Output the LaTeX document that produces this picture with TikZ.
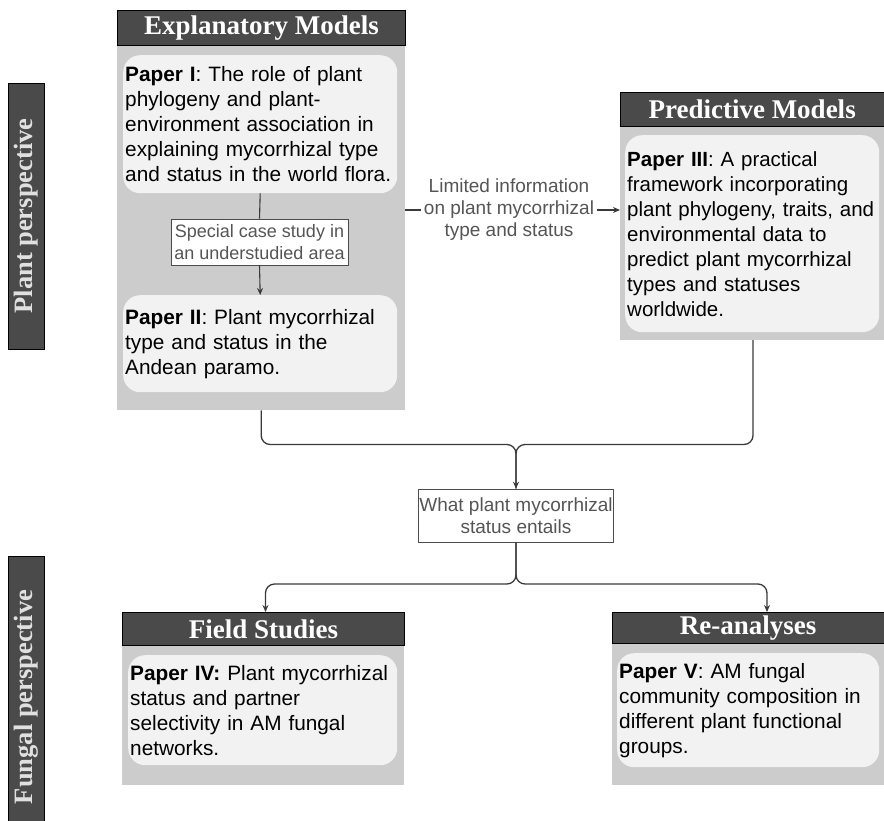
\documentclass[tikz,border=0pt]{standalone}
\usepackage{fontspec}
\setmainfont{Liberation Sans}
\newfontfamily\headfont{Liberation Serif}
\usetikzlibrary{arrows.meta}
\definecolor{hdr}{HTML}{4A4A4A}
\definecolor{panel}{HTML}{CCCCCC}
\definecolor{cardfill}{HTML}{F2F2F2}
\definecolor{lbl}{HTML}{555555}
\definecolor{conn}{HTML}{3A3A3A}
\begin{document}
\begin{tikzpicture}[x=1pt,y=-1pt,
  header/.style={draw=black, line width=0.8pt, fill=hdr, text=white, anchor=north west,
    inner sep=0pt, font=\headfont\bfseries\fontsize{27}{30}\selectfont},
  panelbox/.style={fill=panel, anchor=north west, inner sep=0pt},
  card/.style={fill=cardfill, rounded corners=17pt, anchor=north west, inner xsep=2pt,
    inner ysep=0pt, align=left, font=\fontsize{20.8}{25}\selectfont},
  sidebar/.style={draw=black, line width=0.6pt, fill=hdr, rotate=90, minimum height=36pt,
    inner sep=0pt, text=white!88!black, font=\headfont\bfseries\fontsize{26.5}{30}\selectfont},
  flowlabel/.style={fill=white, text=lbl, align=center, inner xsep=3pt, inner ysep=1pt,
    font=\fontsize{19}{22}\selectfont},
  boxlabel/.style={draw=black!70, fill=white, text=lbl, align=center, inner sep=1pt,
    line width=0.6pt},
  link/.style={draw=conn, line width=1.1pt},
  arrowlink/.style={link, -{Stealth[length=7pt,width=6pt]}},
  merge/.style={draw=conn, line width=1.3pt, rounded corners=9pt},
]
\useasboundingbox (0,0) rectangle (884,820);

% side bars
\node[sidebar, minimum width=266pt] (plantbar) at (26,216) {Plant perspective};
\node[sidebar, minimum width=282pt] (fungalbar) at (26,697) {Fungal perspective};

% Explanatory models
\node[panelbox, minimum width=288pt, minimum height=365pt] (explG) at (117,45) {};
\node[header, minimum width=288pt, minimum height=35pt] (explH) at (117,10) {Explanatory Models};
\node[card, text width=270pt, minimum height=138pt] (p1) at (123,55)
  {\textbf{Paper I}: The role of plant\\phylogeny and plant-\\environment association in\\explaining mycorrhizal type\\and status in the world flora.};
\node[boxlabel, minimum width=177pt, minimum height=46pt, font=\fontsize{18}{22}\selectfont] (spec) at (259.5,242)
  {Special case study in\\an understudied area};
\node[card, text width=270pt, minimum height=97pt] (p2) at (123,295)
  {\textbf{Paper II}: Plant mycorrhizal\\type and status in the\\Andean paramo.};

% Predictive models
\node[panelbox, minimum width=264pt, minimum height=214pt] (predG) at (620,126) {};
\node[header, minimum width=263.5pt, minimum height=34pt] (predH) at (620,92) {Predictive Models};
\node[card, text width=254pt, inner xsep=0pt, minimum height=197pt, font=\fontsize{20.5}{25}\selectfont] (p3) at (625,135)
  {\hspace*{2pt}\textbf{Paper III}: A practical\\\hspace*{2pt}framework incorporating\\\hspace*{2pt}plant phylogeny, traits, and\\\hspace*{2pt}environmental data to\\\hspace*{2pt}predict plant mycorrhizal\\\hspace*{2pt}types and statuses\\\hspace*{2pt}worldwide.};

% link between models
\node[flowlabel] (limited) at (509,210) {Limited information\\on plant mycorrhizal\\type and status};
\draw[link] (explG.east |- limited) -- (limited.west);
\draw[arrowlink] (limited.east) -- (predG.west |- limited);

% central question
\node[boxlabel, minimum width=190pt, minimum height=53pt, font=\fontsize{19}{22}\selectfont] (what) at (516,515.5)
  {What plant mycorrhizal\\status entails};

% Field studies
\node[panelbox, minimum width=282pt, minimum height=140pt] (fieldG) at (122,645) {};
\node[header, minimum width=282pt, minimum height=33pt] (fieldH) at (122,612) {Field Studies};
\node[card, text width=265pt, minimum height=110pt] (p4) at (128,655)
  {\textbf{Paper IV:} Plant mycorrhizal\\status and partner\\selectivity in AM fungal\\networks.};

% Re-analyses
\node[panelbox, minimum width=272pt, minimum height=142pt] (reG) at (612,643) {};
\node[header, minimum width=271.5pt, minimum height=31pt] (reH) at (612,612) {Re-analyses};
\node[card, text width=258pt, minimum height=114pt] (p5) at (617,653)
  {\textbf{Paper V}: AM fungal\\community composition in\\different plant functional\\groups.};

% connectors inside Explanatory
\draw[link] (p1.south) -- (spec.north);
\draw[arrowlink] (spec.south) -- (p2.north);

% merging connectors
\coordinate (mergeY) at (0,444.5);
\coordinate (splitY) at (0,584);
\coordinate (predOut) at (753,340);
\coordinate (reIn) at (767,612);
\coordinate (fieldIn) at (265.5,612);
\draw[merge] (explG.south) -- (explG.south |- mergeY) -| (what.north);
\draw[merge, -{Stealth[length=7pt,width=6pt]}] (predOut) -- (predOut |- mergeY) -| (what.north);
\draw[merge, -{Stealth[length=7pt,width=6pt]}] (what.south) -- (what.south |- splitY) -| (fieldIn);
\draw[merge, -{Stealth[length=7pt,width=6pt]}] (what.south) -- (what.south |- splitY) -| (reIn);
\end{tikzpicture}
\end{document}
